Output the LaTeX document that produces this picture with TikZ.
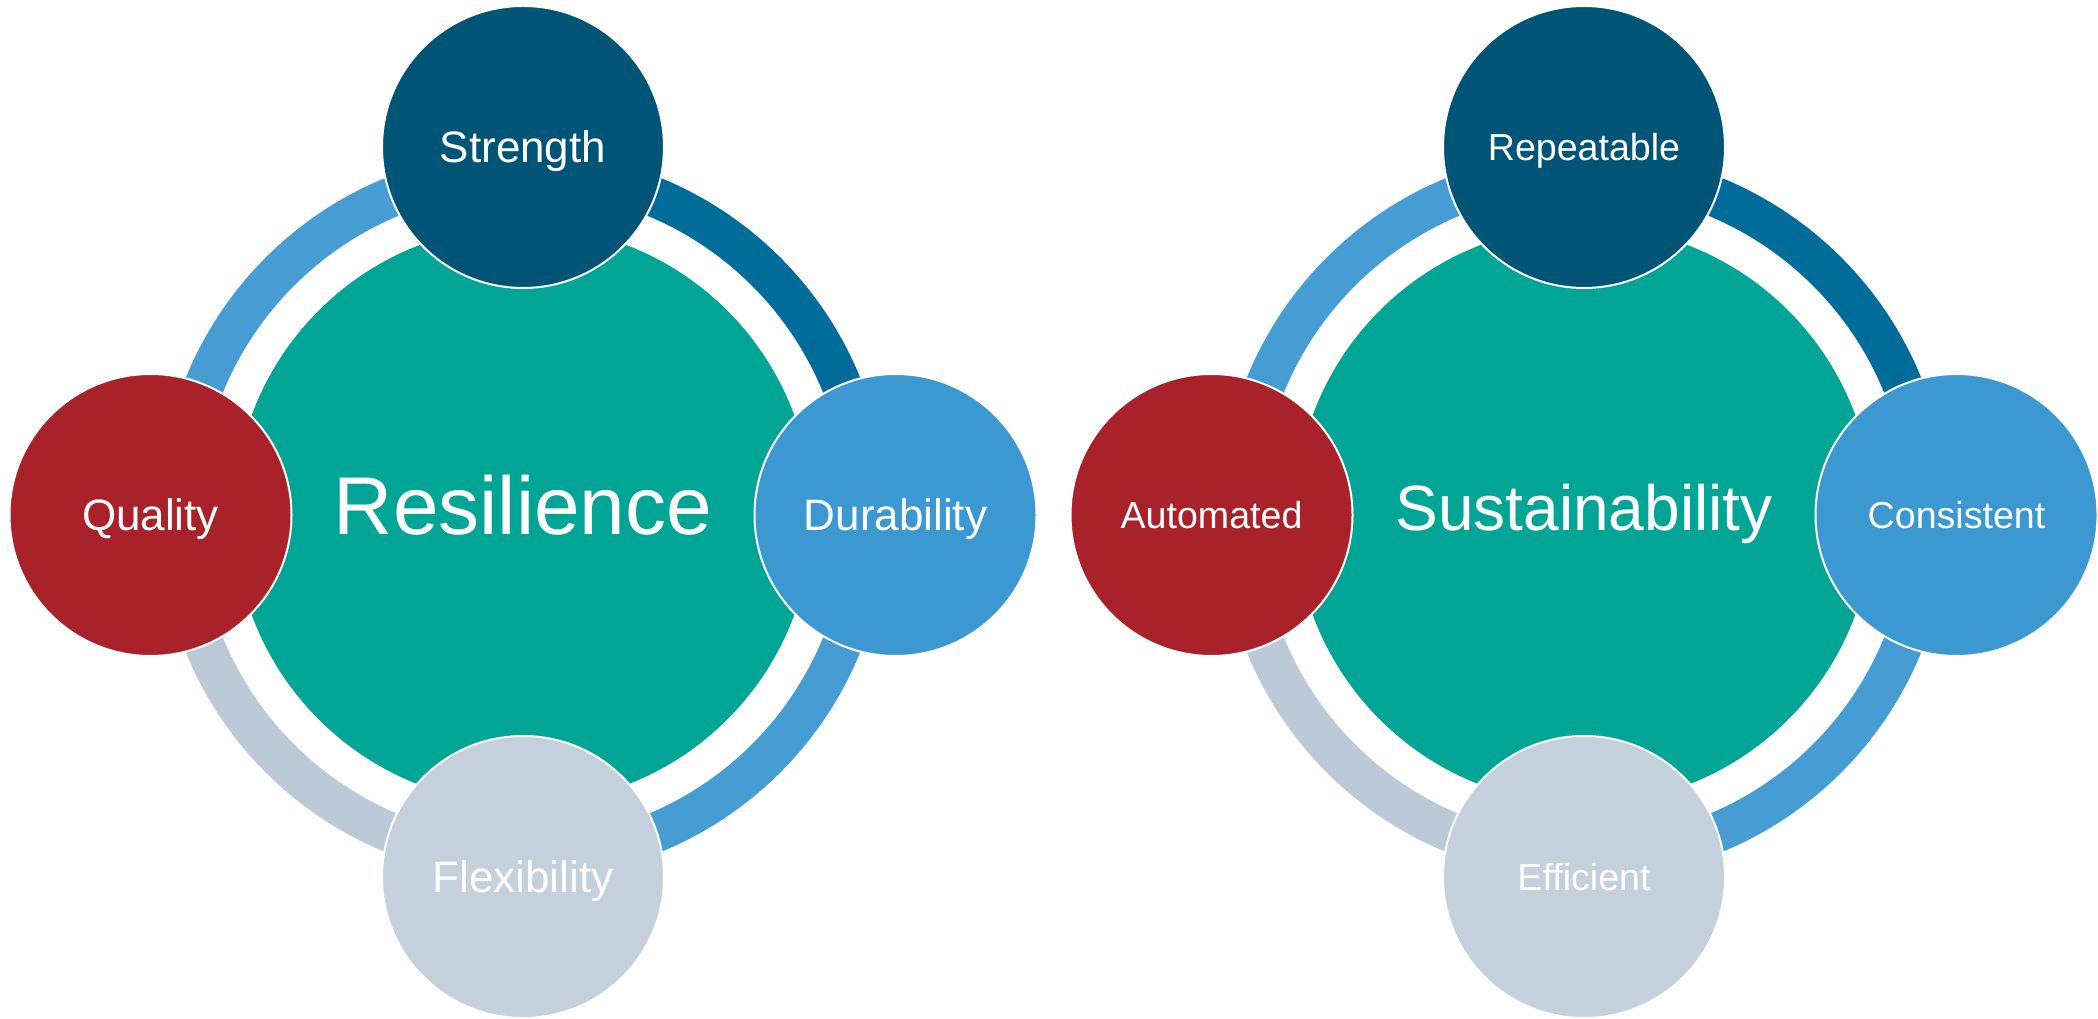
\documentclass[tikz,border=0pt]{standalone}
\usepackage{fontspec}
\setmainfont{Liberation Sans}
\usetikzlibrary{positioning}

\definecolor{hubteal}{HTML}{00A596}
\definecolor{navy}{HTML}{005475}
\definecolor{ringdark}{HTML}{006C9A}
\definecolor{ringlight}{HTML}{459DD3}
\definecolor{skyblue}{HTML}{3C98D1}
\definecolor{brick}{HTML}{A9222A}
\definecolor{mist}{HTML}{C4D0DC}
\definecolor{ringgray}{HTML}{BCCAD7}

\begin{document}
\begin{tikzpicture}[x=0.5pt,y=0.5pt,node distance=184pt,
		hub node/.style={circle,fill=hubteal,text=white,minimum size=289pt,inner sep=0pt,text depth=0pt},
		sat node/.style={circle,draw=white,line width=1pt,text=white,minimum size=141pt,inner sep=0pt,text depth=0pt},
		big sat/.style={sat node,font=\fontsize{22}{26}\selectfont,text height=15.75pt},
		small sat/.style={sat node,font=\fontsize{18.8}{22}\selectfont,text height=13.5pt},
		ring/.style={line width=20pt}]
		\useasboundingbox (0,0) rectangle (2098,1018);
		
		% Resilience
		\node[hub node,font=\fontsize{41}{48}\selectfont,text height=19.4pt] (res0) at (523,503) {Resilience};
		\draw[ring,ringlight] ([shift={(90:172pt)}]res0.center) arc[start angle=90,end angle=180,radius=172pt];
		\draw[ring,ringdark] ([shift={(0:172pt)}]res0.center) arc[start angle=0,end angle=90,radius=172pt];
		\draw[ring,ringlight] ([shift={(270:172pt)}]res0.center) arc[start angle=270,end angle=360,radius=172pt];
		\draw[ring,ringgray] ([shift={(180:172pt)}]res0.center) arc[start angle=180,end angle=270,radius=172pt];
		\node[big sat,fill=navy] (res1) [above of=res0] {Strength};
		\node[big sat,fill=skyblue] (res2) [right of=res0,node distance=186.25pt] {Durability};
		\node[big sat,fill=mist] (res3) [below of=res0,node distance=181pt] {Flexibility};
		\node[big sat,fill=brick] (res4) [left of=res0,node distance=186.25pt] {Quality};
		
		% Sustainability
		\node[hub node,font=\fontsize{32}{38}\selectfont,text height=16pt] (sus0) at (1584,503) {Sustainability};
		\draw[ring,ringlight] ([shift={(90:172pt)}]sus0.center) arc[start angle=90,end angle=180,radius=172pt];
		\draw[ring,ringdark] ([shift={(0:172pt)}]sus0.center) arc[start angle=0,end angle=90,radius=172pt];
		\draw[ring,ringlight] ([shift={(270:172pt)}]sus0.center) arc[start angle=270,end angle=360,radius=172pt];
		\draw[ring,ringgray] ([shift={(180:172pt)}]sus0.center) arc[start angle=180,end angle=270,radius=172pt];
		\node[small sat,fill=navy] (sus1) [above of=sus0] {Repeatable};
		\node[small sat,fill=skyblue] (sus2) [right of=sus0,node distance=186.25pt] {Consistent};
		\node[small sat,fill=mist] (sus3) [below of=sus0,node distance=181pt] {Efficient};
		\node[small sat,fill=brick] (sus4) [left of=sus0,node distance=186.25pt] {Automated};
\end{tikzpicture}
\end{document}
